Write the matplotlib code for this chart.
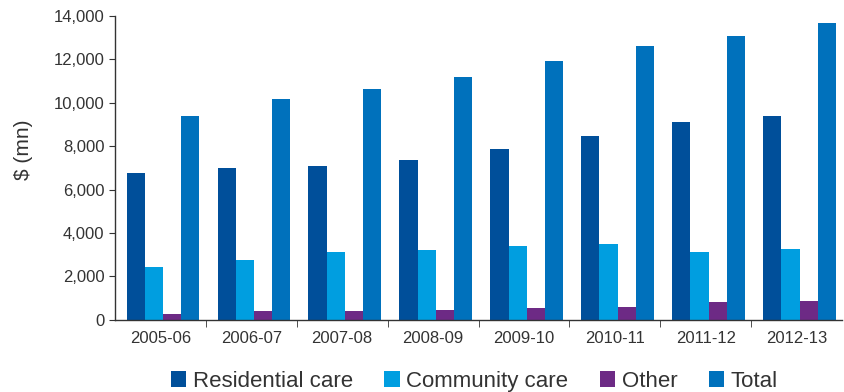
import numpy as np
import matplotlib.pyplot as plt
from matplotlib.ticker import FuncFormatter, FixedLocator

plt.rcParams['font.family'] = ['Liberation Sans', 'DejaVu Sans']

years = ["2005-06", "2006-07", "2007-08", "2008-09", "2009-10", "2010-11", "2011-12", "2012-13"]
residential = [6750, 6980, 7070, 7350, 7860, 8460, 9100, 9380]
community = [2450, 2770, 3110, 3230, 3420, 3510, 3140, 3280]
other = [290, 430, 430, 470, 560, 600, 830, 880]
total = [9380, 10170, 10630, 11180, 11920, 12620, 13080, 13680]

series = [
    ("Residential care", residential, "#004f9a"),
    ("Community care", community, "#009ee0"),
    ("Other", other, "#6d2a85"),
    ("Total", total, "#0071bc"),
]

fig = plt.figure(figsize=(8.44, 3.92), dpi=100)
ax = fig.add_axes([0.136, 0.184, 0.862, 0.775])

x = np.arange(len(years))
w = 0.2
for k, (name, vals, col) in enumerate(series):
    ax.bar(x + (k - 1.5) * w + 0.03, vals, width=w, color=col, label=name)

ax.set_xlim(-0.5, len(years) - 0.5)
ax.set_ylim(0, 14000)
ax.set_yticks(np.arange(0, 14001, 2000))
ax.yaxis.set_major_formatter(FuncFormatter(lambda v, p: f"{int(v):,}"))

ax.set_xticks(x)
ax.set_xticklabels(years)
ax.xaxis.set_minor_locator(FixedLocator(np.arange(0.5, len(years) - 0.5, 1)))
ax.tick_params(axis='x', which='major', length=0, pad=8, labelsize=12, colors='#333333')
ax.tick_params(axis='x', which='minor', length=5, direction='out', color='#333333')
ax.tick_params(axis='y', length=4, labelsize=12, colors='#333333')

for s in ['top', 'right']:
    ax.spines[s].set_visible(False)
for s in ['left', 'bottom']:
    ax.spines[s].set_color('#333333')
    ax.spines[s].set_linewidth(1.0)

ax.set_ylabel("$ (mn)", fontsize=15, color='#333333')
ax.yaxis.set_label_coords(-0.113, 0.56)

fig.legend(loc='center', bbox_to_anchor=(0.562, 0.028), ncol=4, frameon=False,
           fontsize=16, handlelength=0.7, handleheight=0.7, handletextpad=0.3,
           columnspacing=1.4, labelcolor='#333333')

fig.savefig("out.png", dpi=100)
